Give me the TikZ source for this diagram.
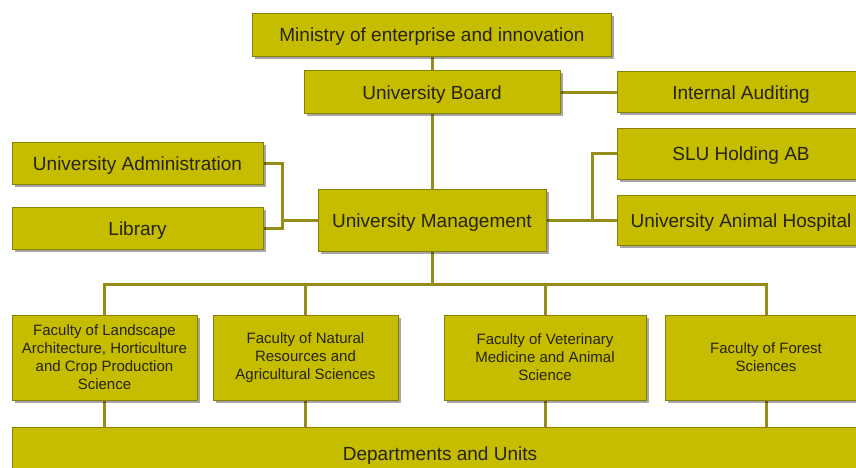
\documentclass[tikz,border=0pt]{standalone}
\usepackage{fontspec}
\setmainfont{Liberation Sans}
\usetikzlibrary{shadows}
\pgfdeclarelayer{background}
\pgfdeclarelayer{paper}
\pgfsetlayers{paper,background,main}
\definecolor{boxfill}{RGB}{198,188,0}
\definecolor{boxline}{RGB}{135,128,0}
\definecolor{wire}{RGB}{150,140,25}
\definecolor{ink}{RGB}{38,36,14}
\tikzset{
  box/.style={draw=boxline, line width=1pt, fill=boxfill, text=ink,
    font=\fontsize{19}{22}\selectfont, inner sep=0pt, align=center,
    text height=14pt, text depth=-4pt,
    drop shadow={shadow xshift=2.5pt, shadow yshift=-2.5pt, opacity=0.35, fill=black}},
  facbox/.style={draw=boxline, line width=1pt, fill=boxfill, text=ink,
    font=\fontsize{15}{18}\selectfont, inner sep=0pt, align=center,
    drop shadow={shadow xshift=2.5pt, shadow yshift=-2.5pt, opacity=0.35, fill=black}},
  wire/.style={draw=wire, line width=3pt}
}
\begin{document}
\begin{tikzpicture}[x=1pt,y=-1pt]
\useasboundingbox (0,0) rectangle (856,467);
\clip (0,0) rectangle (856,467);
\begin{pgfonlayer}{paper}
\fill[white] (0,0) rectangle (856,467);
\end{pgfonlayer}
\node[box, minimum width=359pt, minimum height=43pt] (min) at (432,34.5) {Ministry of enterprise and innovation};
\node[box, minimum width=256pt, minimum height=43pt] (board) at (432,92) {University Board};
\node[box, minimum width=248pt, minimum height=41pt] (audit) at (741,92) {Internal Auditing};
\node[box, minimum width=248pt, minimum height=51pt] (slu) at (741,153.5) {SLU Holding AB};
\node[box, minimum width=248pt, minimum height=50pt] (hosp) at (741,220) {University Animal Hospital};
\node[box, minimum width=251pt, minimum height=42pt] (admin) at (137.5,163) {University Administration};
\node[box, minimum width=251pt, minimum height=42pt] (lib) at (137.5,228) {Library};
\node[box, minimum width=228pt, minimum height=62pt] (mgmt) at (432,220) {University Management};
\node[facbox, minimum width=185pt, minimum height=85pt] (f1) at (104.5,357.5) {Faculty of Landscape\\Architecture, Horticulture\\and Crop Production\\Science};
\node[facbox, minimum width=185pt, minimum height=85pt] (f2) at (305.5,357.5) {Faculty of Natural\\Resources and\\Agricultural Sciences};
\node[facbox, minimum width=202pt, minimum height=85pt] (f3) at (545,357.5) {Faculty of Veterinary\\Medicine and Animal\\Science};
\node[facbox, minimum width=202pt, minimum height=85pt] (f4) at (766,357.5) {Faculty of Forest\\Sciences};
\node[box, minimum width=856pt, minimum height=52pt] (dept) at (440,453) {Departments and Units};
\coordinate (lb) at (282,220);
\coordinate (rb) at (592,220);
\coordinate (hub) at (432,284);
\begin{pgfonlayer}{background}
\draw[wire] (min) -- (board);
\draw[wire] (board) -- (audit);
\draw[wire] (board) -- (mgmt);
\draw[wire] (admin.east) -| (lb);
\draw[wire] (lib.east) -| (lb);
\draw[wire] (lb) -- (mgmt.west);
\draw[wire] (mgmt.east) -- (hosp.west);
\draw[wire] (slu.west) -| (rb);
\draw[wire] (mgmt) -- (hub);
\foreach \f in {f1,f2,f3,f4} {
  \draw[wire] (\f) |- (hub);
  \draw[wire] (\f) -- (\f |- dept.north);
}
\end{pgfonlayer}
\end{tikzpicture}
\end{document}
